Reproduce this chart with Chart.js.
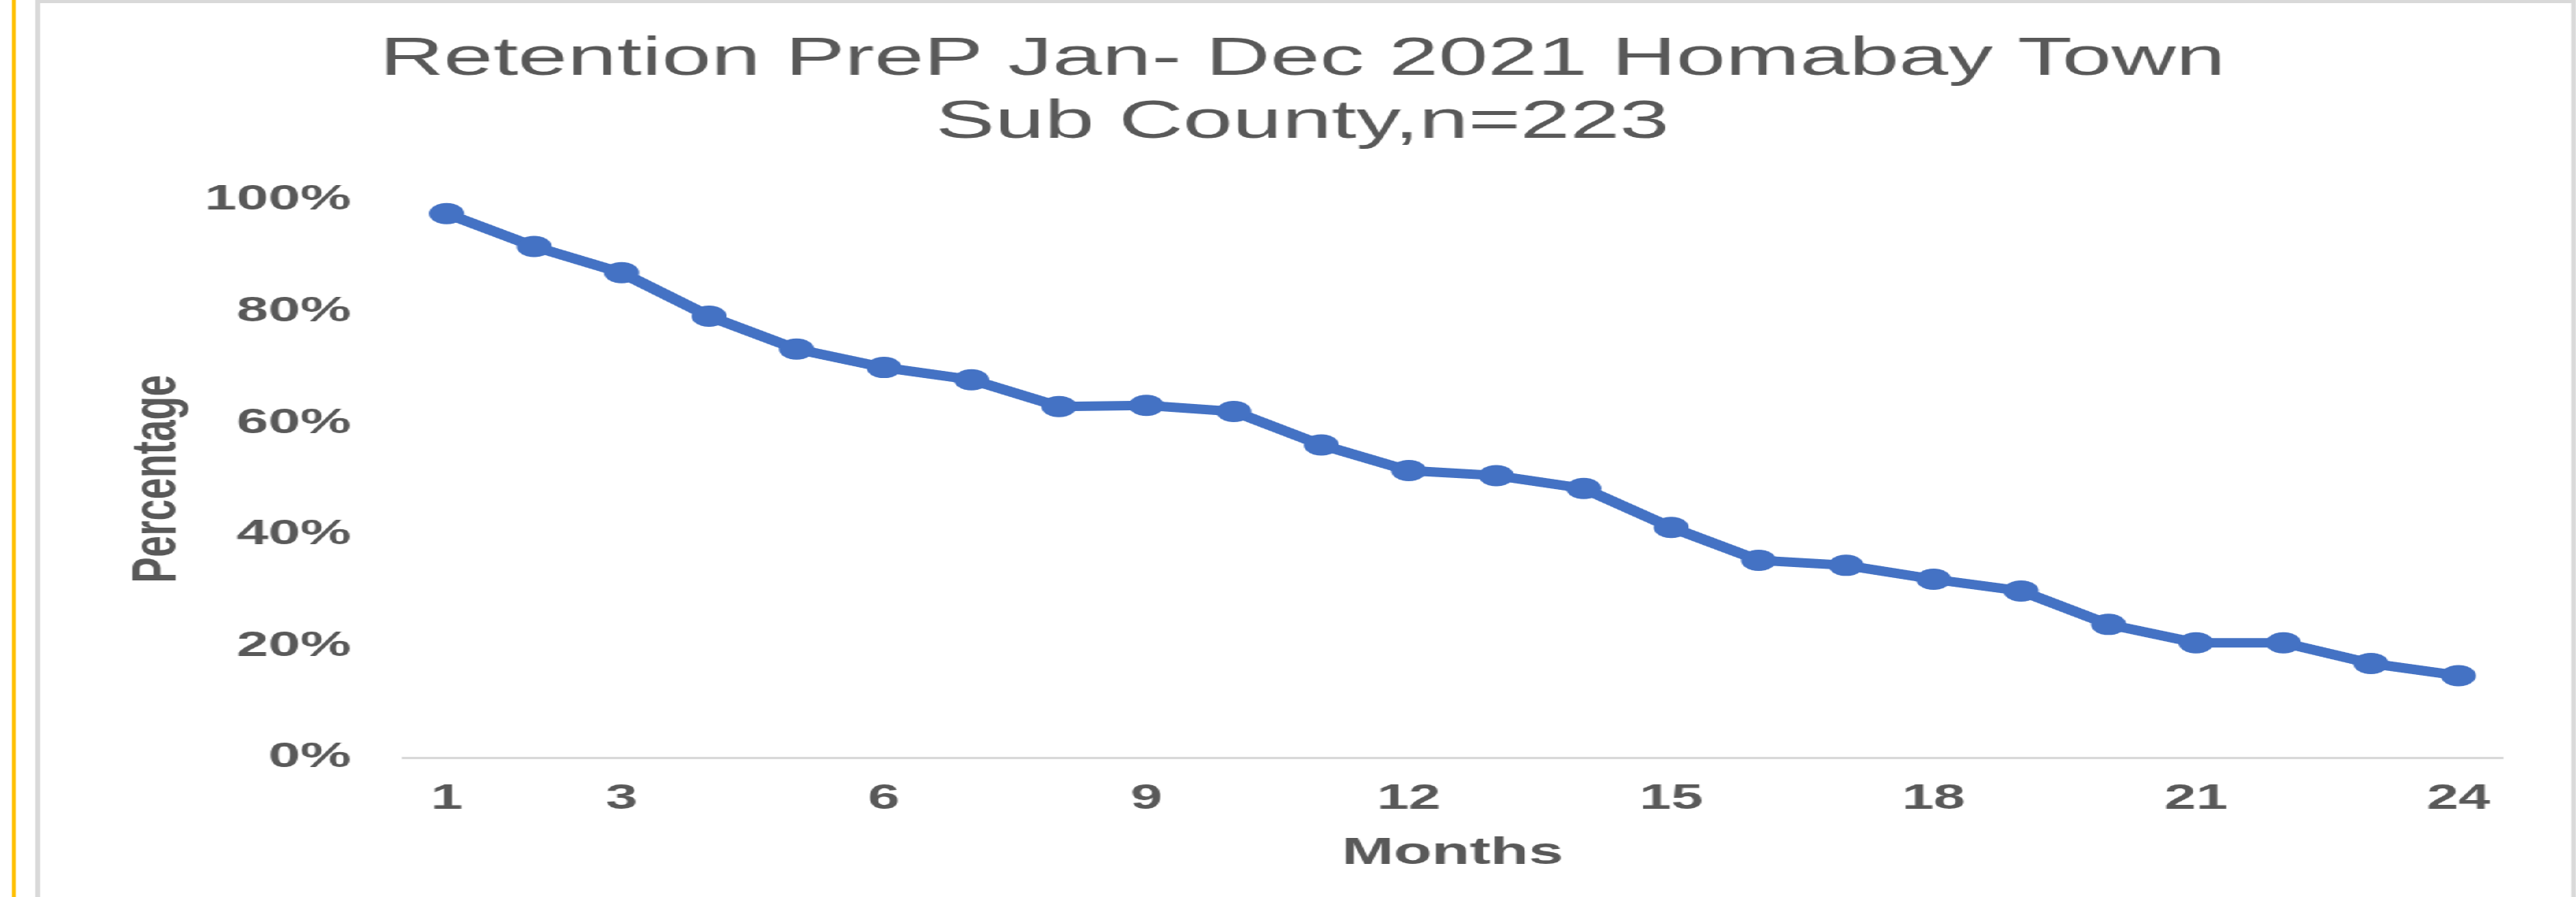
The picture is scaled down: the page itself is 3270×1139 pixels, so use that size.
<!DOCTYPE html>
<html>
<head>
<meta charset="utf-8">
<title>Retention PreP 2021</title>
<script src="https://cdn.jsdelivr.net/npm/chart.js@4.4.1/dist/chart.umd.min.js"></script>
<style>
    html, body {
        margin: 0;
        padding: 0;
        background: #ffffff;
        overflow: hidden;
    }
    /* gambar asli melebar horizontal, jadi seluruh isi ditarik ke samping */
    .wrapper {
        position: relative;
        width: 1982px;
        height: 1139px;
        transform: scaleX(1.65);
        transform-origin: 0 0;
    }
    .garis-kuning {
        position: absolute;
        left: 9px;
        top: 0;
        width: 2.5px;
        height: 1139px;
        background: #FFC000;
    }
    .bingkai {
        position: absolute;
        left: 27px;
        top: 0;
        width: 1955px;
        height: 1200px;
        border: 4px solid #D9D9D9;
        box-sizing: border-box;
        background: #ffffff;
    }
    #retensiChart {
        position: absolute;
        left: 0;
        top: 0;
    }
</style>
</head>
<body>
<div class="wrapper">
    <div class="garis-kuning"></div>
    <div class="bingkai"></div>
    <canvas id="retensiChart" width="1982" height="1139"></canvas>
</div>

<script>
// Data retensi PrEP per bulan (persen)
const months = ['1', '2', '3', '4', '5', '6', '7', '8', '9', '10', '11', '12',
                '13', '14', '15', '16', '17', '18', '19', '20', '21', '22', '23', '24'];
const retention = [97.6, 91.7, 87.0, 79.2, 73.3, 70.0, 67.8, 63.0, 63.2, 62.1, 56.1, 51.5,
                   50.6, 48.3, 41.3, 35.4, 34.5, 32.0, 29.9, 23.9, 20.6, 20.6, 16.9, 14.7];
const shownMonths = ['1', '3', '6', '9', '12', '15', '18', '21', '24'];
const yTicks = [0, 20, 40, 60, 80, 100];
const titleLines = ['Retention PreP Jan- Dec 2021 Homabay Town', 'Sub County,n=223'];

const FONT = "'Liberation Sans', Arial, sans-serif";
const TEXT_COLOR = '#595959';
const LINE_COLOR = '#4472C4';

document.addEventListener('DOMContentLoaded', () => {
    const ctx = document.getElementById('retensiChart').getContext('2d');

    new Chart(ctx, {
        type: 'line',
        data: {
            labels: months,
            datasets: [{
                label: 'Retention',
                data: retention,
                borderColor: LINE_COLOR,
                backgroundColor: LINE_COLOR,
                borderWidth: 12,
                pointRadius: 13.5,
                pointBorderWidth: 0,
                pointBackgroundColor: LINE_COLOR,
                tension: 0,
            }],
        },
        options: {
            responsive: false,
            animation: false,
            devicePixelRatio: 1,
            layout: {
                padding: { left: 79, right: 57, top: 36, bottom: 26 },
            },
            plugins: {
                legend: { display: false },
                tooltip: { enabled: false },
                title: {
                    display: true,
                    text: titleLines,
                    color: TEXT_COLOR,
                    font: { family: FONT, size: 68.5, weight: 'normal', lineHeight: 1.17 },
                    padding: { top: 0, bottom: 58 },
                },
            },
            scales: {
                x: {
                    offset: true,
                    grid: { display: false, drawTicks: false },
                    border: { display: true, color: '#D9D9D9', width: 3 },
                    ticks: {
                        autoSkip: false,
                        maxRotation: 0,
                        padding: 26,
                        color: TEXT_COLOR,
                        font: { family: FONT, size: 44, weight: 'bold' },
                        callback: (value, index) => shownMonths.includes(months[index]) ? months[index] : '',
                    },
                    title: {
                        display: true,
                        text: 'Months',
                        color: TEXT_COLOR,
                        font: { family: FONT, size: 48, weight: 'bold' },
                        padding: { top: 0, bottom: 0 },
                    },
                    afterFit: (axis) => { axis.height = 151; },
                },
                y: {
                    min: 0,
                    max: 100,
                    grid: { display: false, drawTicks: false },
                    border: { display: false },
                    afterBuildTicks: (axis) => {
                        axis.ticks = yTicks.map(v => ({ value: v }));
                    },
                    ticks: {
                        padding: 40,
                        color: TEXT_COLOR,
                        font: { family: FONT, size: 44, weight: 'bold' },
                        callback: (value) => value + '%',
                    },
                    title: {
                        display: true,
                        text: 'Percentage',
                        color: TEXT_COLOR,
                        font: { family: FONT, size: 49, weight: 'bold' },
                        padding: { top: 13, bottom: 0 },
                    },
                    afterFit: (axis) => { axis.width = 231; },
                },
            },
        },
    });
});
</script>
</body>
</html>
